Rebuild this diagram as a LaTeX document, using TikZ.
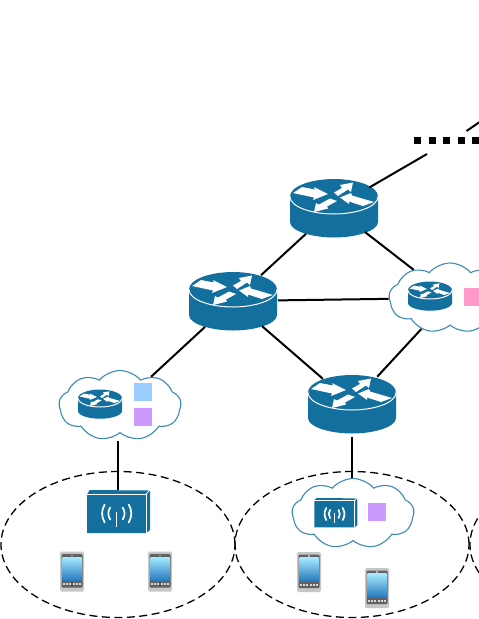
\documentclass[tikz,border=0pt]{standalone}
\usepackage{xcolor}
\usetikzlibrary{shapes.geometric,shapes.symbols}

\definecolor{ciscoblue}{HTML}{126F9E}
\definecolor{cloudline}{HTML}{3C8BB3}
\definecolor{squareblue}{HTML}{99CCFF}
\definecolor{squarepurple}{HTML}{CC99FF}
\definecolor{squarepink}{HTML}{FF99CC}

\tikzset{
    link/.style={black, line width=2pt},
    zone/.style={draw=black, line width=1.3pt, dash pattern=on 8pt off 4.5pt},
    slot/.style={ellipse, draw=none, minimum width=90pt, minimum height=66pt, inner sep=0pt, outer sep=0pt},
    apslot/.style={rectangle, minimum width=62pt, minimum height=46pt, inner sep=0pt, outer sep=0pt},
    cloudbox/.style={cloud, draw=cloudline, fill=white, line width=1.1pt, cloud puffs=9, cloud puff arc=100, aspect=1.7, minimum width=122pt, minimum height=70pt, inner sep=0pt},
    slice/.style={rectangle, draw=white, line width=0.3pt, minimum size=19pt, inner sep=0pt},
    pics/router/.style={code={
        \fill[ciscoblue] (-44,-11.5) -- (-44,14) .. controls (-44,23) and (-22,29.5) .. (0,29.5)
            .. controls (22,29.5) and (44,23) .. (44,14) -- (44,-11.5)
            .. controls (44,-22) and (22,-29) .. (0,-29) .. controls (-22,-29) and (-44,-22) .. (-44,-11.5) -- cycle;
        \draw[white, line width=1pt] (-44,-11.5) .. controls (-44,-1) and (-22,6) .. (0,6) .. controls (22,6) and (44,-1) .. (44,-11.5);
        \fill[white] (-41,-15) -- (-32,-21) -- (-19,-18.5) -- (-20,-21) -- (-6,-14) -- (-21,-8) -- (-20,-10.5) -- cycle;
        \fill[white] (0,-15.5) -- (8,-20) -- (6,-23) -- (19,-25.5) -- (17,-16) -- (14,-18.5) -- (4,-12) -- cycle;
        \fill[white] (6,-10.5) -- (17,-15) -- (18,-12.5) -- (40,-6) -- (29,-2) -- (15,-6.5) -- (15,-4) -- cycle;
        \fill[white] (-20,4) -- (-18,-5) -- (-15,-3.5) -- (-4,-9.5) -- (3,-7) -- (-7,-1.5) -- (-6,0.5) -- cycle;
    }},
    pics/accesspoint/.style={code={
        \fill[ciscoblue] (-29.5,-19.5) -- (-27,-23.5) -- (32.5,-23) -- (33.5,-21.5) -- (33.5,16.5) -- (29.5,19.5) -- (-29.5,19.5) -- cycle;
        \draw[white, line width=0.8pt] (-29.5,-19.5) -- (29.5,-19.5) -- (29.5,19.5);
        \draw[white, line width=0.8pt] (29.5,-19.5) -- (32.5,-23);
        \draw[white, line width=1.7pt, line cap=round] (-12,-9) .. controls (-15.5,-3) and (-15.5,3) .. (-12,9);
        \draw[white, line width=1.7pt, line cap=round] (-6.5,-6) .. controls (-9,-2) and (-9,2) .. (-6.5,6);
        \draw[white, line width=1.7pt, line cap=round] (6,-6) .. controls (8.5,-2) and (8.5,2) .. (6,6);
        \draw[white, line width=1.7pt, line cap=round] (12,-9) .. controls (15.5,-3) and (15.5,3) .. (12,9);
        \draw[white, line width=0.7pt] (0,-2) -- (0,13);
    }},
    pics/phone/.style={code={
        \fill[black!22, rounded corners=1.5pt] (-12,-20) rectangle (12,20);
        \fill[black!62, rounded corners=1pt] (-10.5,-17.5) rectangle (10.5,16);
        \shade[top color=blue!25!cyan!35!white, bottom color=blue!45!cyan!70!black!85] (-9.5,-14.5) rectangle (9.5,9);
        \fill[black!30] (-1,-17) rectangle (1,-15.5);
        \foreach \k in {-8,-5,-2,2,5,8} {
            \fill[black!15] (\k-0.8,11.5) rectangle (\k+0.8,13.5);
        }
    }}
}

\begin{document}
\begin{tikzpicture}[x=1pt,y=-1pt]
    \useasboundingbox (0,0) rectangle (479,619);
    \clip (0,0) rectangle (479,619);

    % Zones
    \node[ellipse, zone, minimum width=234pt, minimum height=146pt, inner sep=0pt] (zoneleft) at (118,544.5) {};
    \node[ellipse, zone, minimum width=234pt, minimum height=146pt, inner sep=0pt] (zonemid) at (352,544.5) {};
    \node[ellipse, zone, minimum width=234pt, minimum height=146pt, inner sep=0pt] (zoneright) at (587,544.5) {};

    % Routers and clouds
    \node[slot] (routertop) at (334,208) {};
    \node[slot] (routerleft) at (233,301) {};
    \node[slot] (routermid) at (352,404) {};
    \node[cloudbox] (cloudright) at (450,298) {};
    \node[cloudbox] (cloudleft) at (120,405.5) {};
    \node[cloudbox] (cloudmid) at (353,513.5) {};
    \node[apslot] (apleft) at (118,513) {};

    \pic at (routertop) {router};
    \pic at (routerleft) {router};
    \pic at (routermid) {router};
    \pic[scale=0.5] at (430,296) {router};
    \pic[scale=0.5] at (100,404) {router};

    % Network slices
    \node[slice, fill=squarepink] (slicepink) at (473,296.5) {};
    \node[slice, fill=squareblue] (sliceblue) at (143,391.5) {};
    \node[slice, fill=squarepurple] (slicepurple) at (143,416.5) {};
    \node[slice, fill=squarepurple] (slicemid) at (377,512) {};

    % Access points and phones
    \pic at (116.7,513.5) {accesspoint};
    \pic[scale=0.68] at (334.5,514) {accesspoint};
    \pic at (72,571.5) {phone};
    \pic at (160,571.5) {phone};
    \pic at (309,572) {phone};
    \pic at (377,588) {phone};

    % Backhaul
    \foreach \k in {0,...,4} {
        \fill[black] (417.5+14.5*\k-3.5,136.5) rectangle (417.5+14.5*\k+3.5,143.5);
    }
    \coordinate (dotsin) at (427,154);
    \coordinate (dotsout) at (466.5,131);
    \coordinate (farend) at (490,115);

    % Links
    \draw[link] (routertop) -- (dotsin);
    \draw[link] (dotsout) -- (farend);
    \draw[link] (routertop) -- (routerleft);
    \draw[link] (routertop) -- (cloudright);
    \draw[link] (routerleft) -- (cloudright);
    \draw[link] (routerleft) -- (routermid);
    \draw[link] (routermid) -- (cloudright);
    \draw[link] (routerleft) -- (cloudleft);
    \draw[link] ([yshift=-8pt]cloudleft.south -| apleft) -- (apleft);
    \draw[link] (routermid) -- (routermid |- cloudmid.north);
\end{tikzpicture}
\end{document}
